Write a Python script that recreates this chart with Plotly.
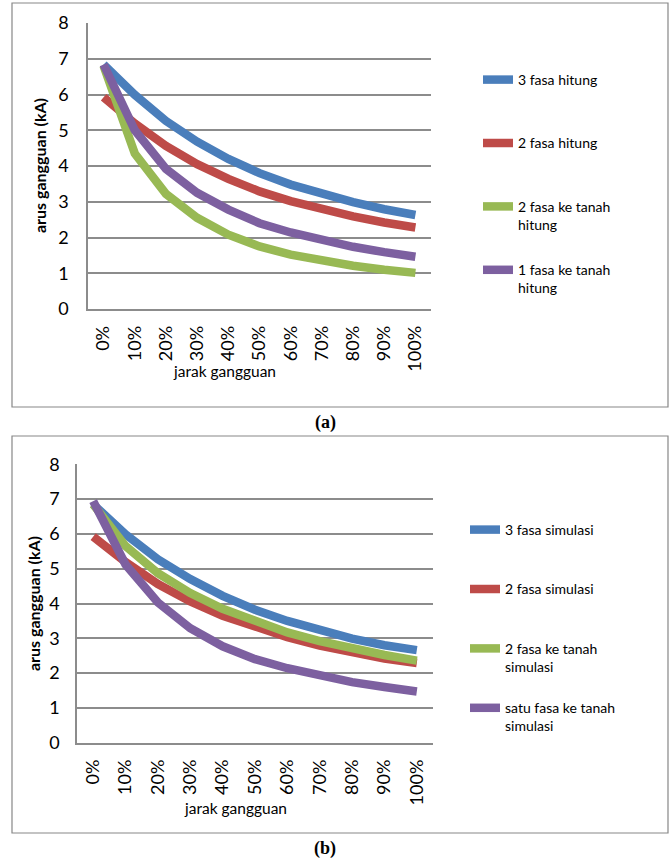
import plotly.graph_objects as go

W, H = 672, 861

categories = ["0%", "10%", "20%", "30%", "40%", "50%", "60%", "70%", "80%", "90%", "100%"]

# (a) hitung
tiga_fasa_hitung = [6.84, 5.99, 5.26, 4.68, 4.20, 3.80, 3.48, 3.22, 2.99, 2.79, 2.63]
dua_fasa_hitung = [5.92, 5.19, 4.56, 4.05, 3.64, 3.29, 3.02, 2.79, 2.59, 2.42, 2.28]
dua_fasa_tanah_hitung = [6.80, 4.35, 3.22, 2.55, 2.08, 1.75, 1.52, 1.35, 1.21, 1.10, 1.01]
satu_fasa_tanah_hitung = [6.84, 5.00, 3.92, 3.25, 2.78, 2.40, 2.14, 1.92, 1.74, 1.59, 1.46]

# (b) simulasi
tiga_fasa_sim = [6.85, 5.99, 5.27, 4.70, 4.22, 3.82, 3.50, 3.23, 2.99, 2.80, 2.66]
dua_fasa_sim = [5.92, 5.19, 4.56, 4.06, 3.65, 3.31, 3.03, 2.79, 2.59, 2.42, 2.29]
dua_fasa_tanah_sim = [6.85, 5.65, 4.87, 4.30, 3.85, 3.48, 3.17, 2.92, 2.71, 2.52, 2.36]
satu_fasa_tanah_sim = [6.94, 5.12, 4.03, 3.29, 2.77, 2.40, 2.14, 1.92, 1.74, 1.60, 1.47]

names_a = ["3 fasa hitung", "2 fasa hitung", "2 fasa ke tanah<br>hitung", "1 fasa ke tanah<br>hitung"]
names_b = ["3 fasa simulasi", "2 fasa simulasi", "2 fasa ke tanah<br>simulasi", "satu fasa ke tanah<br>simulasi"]
colors = ["#4A7EBB", "#BE4B48", "#98B954", "#7D60A0"]

FONT = "Lato"
GRID = "#8C8C8C"

def px(x):
    return x / W

def py(y):
    return 1 - y / H

fig = go.Figure()

series_a = [tiga_fasa_hitung, dua_fasa_hitung, dua_fasa_tanah_hitung, satu_fasa_tanah_hitung]
series_b = [tiga_fasa_sim, dua_fasa_sim, dua_fasa_tanah_sim, satu_fasa_tanah_sim]

def pad(name):
    return name if "<br>" in name else name + "<br>&nbsp;"

for vals, name, c in zip(series_a, names_a, colors):
    fig.add_trace(go.Scatter(x=categories, y=vals, name=pad(name), mode="lines",
                             line=dict(color=c, width=8.5), xaxis="x", yaxis="y",
                             legend="legend", legendgroup="a" + name))
for vals, name, c in zip(series_b, names_b, colors):
    fig.add_trace(go.Scatter(x=categories, y=vals, name=pad(name), mode="lines",
                             line=dict(color=c, width=8.5), xaxis="x2", yaxis="y2",
                             legend="legend2", legendgroup="b" + name))

axis_common = dict(showline=True, linecolor=GRID, linewidth=1.5, ticks="", automargin=False,
                   tickfont=dict(family=FONT, size=18, color="#000"))

fig.update_layout(
    width=W, height=H, margin=dict(l=0, r=0, t=0, b=0),
    paper_bgcolor="white", plot_bgcolor="white",
    font=dict(family=FONT, color="#000"),
    xaxis=dict(domain=[px(88), px(431)], anchor="y", type="category", range=[-0.5, 10.5],
               tickangle=-90, ticklabelstandoff=8, showgrid=False, **axis_common),
    yaxis=dict(domain=[py(309), py(23)], anchor="x", range=[0, 8], dtick=1,
               showgrid=True, gridcolor=GRID, gridwidth=1.5, ticklabelstandoff=14,
               zeroline=False, **axis_common),
    xaxis2=dict(domain=[px(77), px(433)], anchor="y2", type="category", range=[-0.5, 10.5],
                tickangle=-90, ticklabelstandoff=8, showgrid=False, **axis_common),
    yaxis2=dict(domain=[py(742.7), py(464.3)], anchor="x2", range=[0, 8], dtick=1,
                showgrid=True, gridcolor=GRID, gridwidth=1.5, ticklabelstandoff=12,
                zeroline=False, **axis_common),
    legend=dict(x=px(478), xanchor="left", y=py(64), yanchor="top",
                font=dict(family=FONT, size=14, color="#000"),
                tracegroupgap=24, traceorder="grouped", valign="top",
                bgcolor="rgba(0,0,0,0)"),
    legend2=dict(x=px(465), xanchor="left", y=py(514), yanchor="top",
                 font=dict(family=FONT, size=14, color="#000"),
                 tracegroupgap=20, traceorder="grouped", valign="top",
                 bgcolor="rgba(0,0,0,0)"),
    showlegend=True,
)

# outer boxes
fig.add_shape(type="rect", xref="paper", yref="paper",
              x0=px(12), x1=px(668), y0=py(407), y1=py(3),
              line=dict(color="#878787", width=1.2), layer="below")
fig.add_shape(type="rect", xref="paper", yref="paper",
              x0=px(12), x1=px(668), y0=py(833), y1=py(436),
              line=dict(color="#878787", width=1.2), layer="below")

# axis titles and captions
ann = [
    dict(text="<b>arus gangguan (kA)</b>", x=px(40), y=py(166), textangle=-90,
         font=dict(family=FONT, size=16)),
    dict(text="jarak gangguan", x=px(225), y=py(371), font=dict(family=FONT, size=15.5)),
    dict(text="<b>arus gangguan (kA)</b>", x=px(33), y=py(604), textangle=-90,
         font=dict(family=FONT, size=16)),
    dict(text="jarak gangguan", x=px(235), y=py(808), font=dict(family=FONT, size=15.5)),
    dict(text="<b>(a)</b>", x=px(325), y=py(423), font=dict(family="Liberation Serif", size=18)),
    dict(text="<b>(b)</b>", x=px(325), y=py(848), font=dict(family="Liberation Serif", size=18)),
]
for a in ann:
    fig.add_annotation(xref="paper", yref="paper", showarrow=False,
                       xanchor="center", yanchor="middle", **a)

fig.write_html("out.html", config={"displayModeBar": False},
               post_script="document.body.style.margin='0';document.body.style.overflow='hidden';")
